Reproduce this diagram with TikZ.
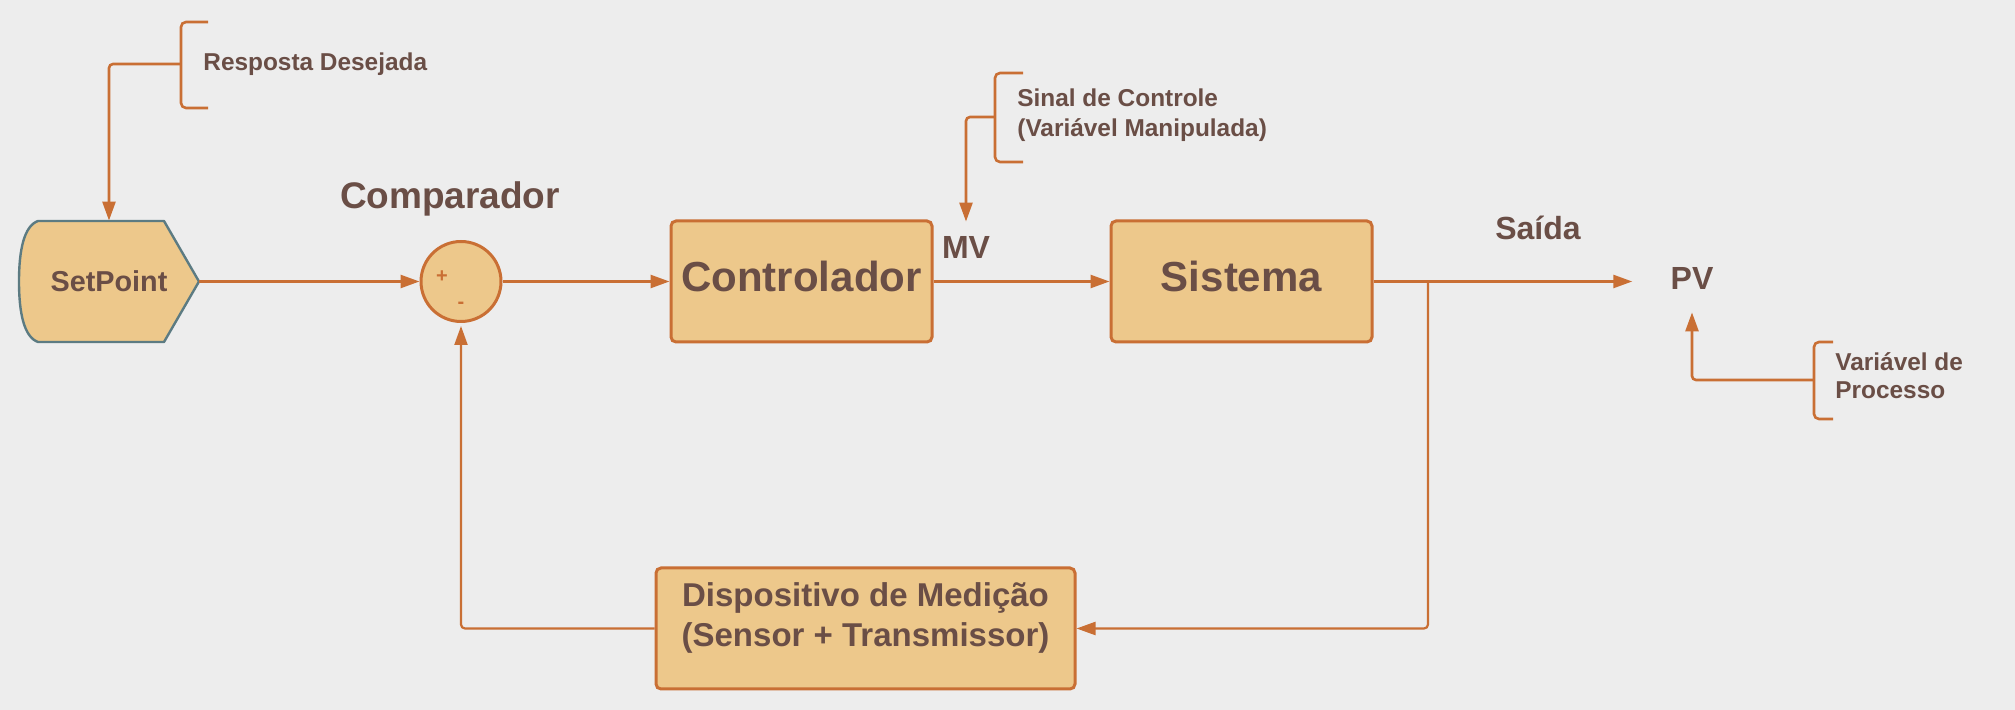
\documentclass[tikz,border=0pt]{standalone}
\usepackage{fontspec}
\setmainfont{Liberation Sans}
\usetikzlibrary{arrows.meta}

\definecolor{bgc}{HTML}{EDEDED}
\definecolor{boxfill}{HTML}{EDC88B}
\definecolor{wire}{HTML}{C96F34}
\definecolor{ink}{HTML}{6A4E46}
\definecolor{spborder}{HTML}{5C7B82}

\tikzset{
  block/.style={draw=wire, fill=boxfill, line width=1.5pt, rounded corners=2.5pt,
    minimum width=130.5pt, minimum height=60.5pt, text=ink, text depth=5pt,
    font=\bfseries\fontsize{21}{25}\selectfont},
  wirearrow/.style={draw=wire, line width=1.3pt, rounded corners=2pt,
    -{Triangle[length=9.5pt,width=6.5pt]}},
  wireback/.style={wirearrow, line width=1.1pt},
  bracket/.style={draw=wire, line width=1.3pt, rounded corners=2.5pt},
  tag/.style={text=ink, inner sep=0pt, font=\bfseries\fontsize{16}{19}\selectfont},
  notetext/.style={text=ink, inner sep=0pt, align=left,
    font=\bfseries\fontsize{12.2}{15}\selectfont},
  sign/.style={text=wire, inner sep=0pt, font=\bfseries\fontsize{10}{12}\selectfont}
}

\begin{document}
\begin{tikzpicture}[x=0.5pt, y=-0.5pt]
  \fill[bgc] (0,0) rectangle (2015,710);
  \useasboundingbox (0,0) rectangle (2015,710);

  % setpoint shape
  \draw[draw=spborder, fill=boxfill, line width=1.2pt, line join=round]
    (38,221) -- (164,221) -- (199,281.5) -- (164,342) -- (38,342)
    .. controls (24,337) and (19,313) .. (19,281.5)
    .. controls (19,250) and (24,226) .. (38,221) -- cycle;
  \node[text=ink, minimum width=90pt, minimum height=60.5pt,
    font=\bfseries\fontsize{14.4}{17}\selectfont] (sp) at (109,281.5) {SetPoint};

  \node[circle, draw=wire, fill=boxfill, line width=1.5pt, minimum size=40pt,
    inner sep=0pt] (cmp) at (461,281.5) {};
  \node[sign] (plus) at (442,277) {+};
  \node[sign] (minus) at (461,305) {-};
  \node[text=ink, inner sep=0pt, anchor=base,
    font=\bfseries\fontsize{18.5}{22}\selectfont] (cmplbl) at (450,209) {Comparador};

  \node[block] (ctrl) at (801.5,281.5) {Controlador};
  \node[block] (sis) at (1241.5,281.5) {Sistema};
  \node[block, minimum width=209.5pt, align=center, text depth=14pt,
    font=\bfseries\fontsize{16.5}{20}\selectfont] (disp) at (865.5,628.5)
    {Dispositivo de Medição\\(Sensor + Transmissor)};

  \node[tag, anchor=base] (mv) at (966,259) {MV};
  \node[tag, anchor=base] (out) at (1538,240) {Saída};
  \node[tag, anchor=base] (pv) at (1692,290) {PV};

  \node[notetext, anchor=base west] (resp) at (203,71) {Resposta Desejada};
  \node[notetext, anchor=base west] (sinal) at (1017,137)
    {Sinal de Controle\\(Variável Manipulada)};
  \node[notetext, anchor=base west, font=\bfseries\fontsize{12.2}{14}\selectfont]
    (varp) at (1835,399) {Variável de\\Processo};

  % brackets
  \draw[bracket] (208,22) -- (181,22) -- (181,108) -- (208,108);
  \draw[bracket] (1023,73) -- (995,73) -- (995,162) -- (1023,162);
  \draw[bracket] (1833,342) -- (1814,342) -- (1814,419) -- (1833,419);
  \coordinate (rd) at (181,64);
  \coordinate (sc) at (995,117);
  \coordinate (vp) at (1814,380);

  \draw[wirearrow] (rd) -| (sp.north);
  \draw[wirearrow] (sc) -| ([yshift=7.5pt]mv.north);
  \draw[wirearrow] (vp) -| ([yshift=-11pt]pv.south);

  \draw[wirearrow] (sp.east) -- (cmp.west);
  \draw[wirearrow] (cmp.east) -- (ctrl.west);
  \draw[wirearrow] (ctrl.east) -- (sis.west);
  \draw[wirearrow, shorten >=19pt] (sis.east) -- (pv.west |- sis.east);

  % feedback
  \coordinate (tap) at (1428,281.5);
  \draw[wireback] (tap) |- (disp.east);
  \draw[wireback, shorten >=1.5pt] (disp.west) -| (cmp.south);
\end{tikzpicture}
\end{document}
